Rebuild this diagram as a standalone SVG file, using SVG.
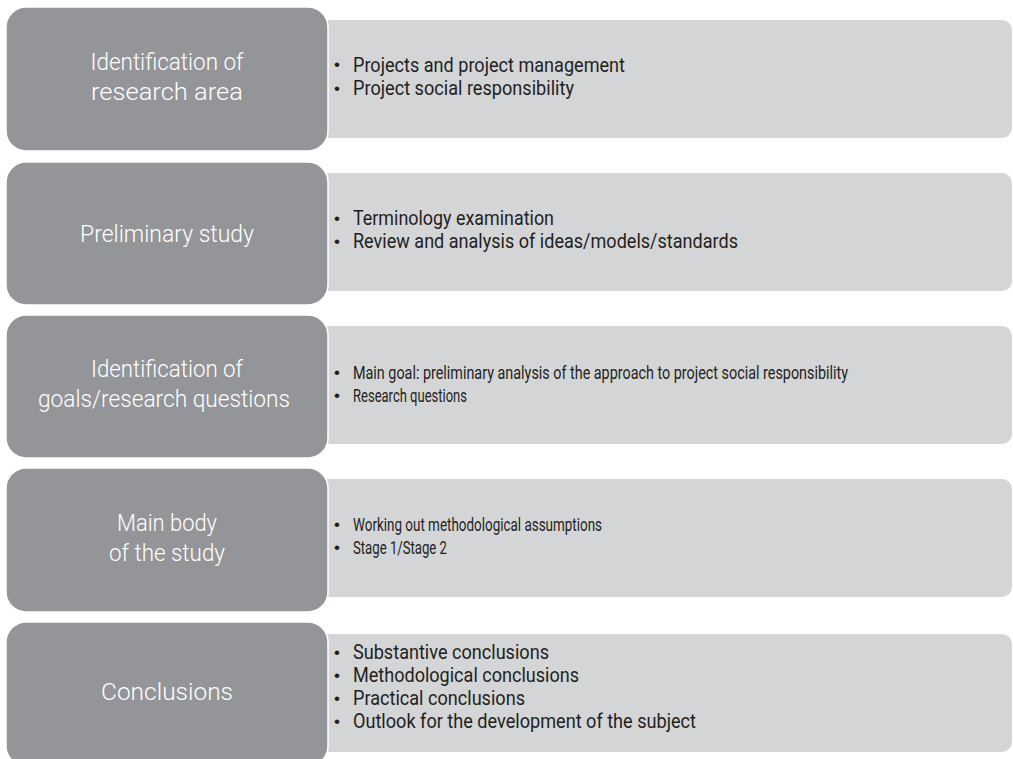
<svg xmlns="http://www.w3.org/2000/svg" width="1013" height="759" viewBox="0 0 1013 759">
  <style>
    .panel { fill: #d4d5d7; }
    .stage { fill: #939598; stroke: #ffffff; stroke-width: 1.5; }
    .stage-label { font-family: Roboto, "Liberation Sans", sans-serif; font-weight: 300; font-size: 24px; fill: #ffffff; text-anchor: middle; }
    .item { font-family: Roboto, "Liberation Sans", sans-serif; font-size: 21px; fill: #231f20; }
    .item.small { font-size: 19px; }
    .bullet { font-family: "Liberation Sans", sans-serif; font-size: 17px; fill: #231f20; }
  </style>
  <rect width="1013" height="759" fill="#ffffff"/>

  <g id="connectors"></g>

  <!-- Stage 1 -->
  <g id="stage-research-area">
    <rect class="panel" x="300" y="20" width="712" height="118" rx="10"/>
    <rect class="stage" x="6" y="7" width="322" height="144" rx="20"/>
    <text class="stage-label" x="167" y="70" textLength="153" lengthAdjust="spacingAndGlyphs">Identification of</text>
    <text class="stage-label" x="167" y="100" textLength="152" lengthAdjust="spacingAndGlyphs">research area</text>
    <text class="bullet" x="334" y="70">•</text>
    <text class="item" x="353" y="71.5" textLength="272" lengthAdjust="spacingAndGlyphs">Projects and project management</text>
    <text class="bullet" x="334" y="94">•</text>
    <text class="item" x="353" y="95" textLength="221" lengthAdjust="spacingAndGlyphs">Project social responsibility</text>
  </g>

  <!-- Stage 2 -->
  <g id="stage-preliminary">
    <rect class="panel" x="300" y="173" width="712" height="118" rx="10"/>
    <rect class="stage" x="6" y="162" width="322" height="143" rx="20"/>
    <text class="stage-label" x="167" y="242" textLength="174" lengthAdjust="spacingAndGlyphs">Preliminary study</text>
    <text class="bullet" x="334" y="224">•</text>
    <text class="item" x="353" y="225" textLength="201" lengthAdjust="spacingAndGlyphs">Terminology examination</text>
    <text class="bullet" x="334" y="247">•</text>
    <text class="item" x="353" y="248" textLength="385" lengthAdjust="spacingAndGlyphs">Review and analysis of ideas/models/standards</text>
  </g>

  <!-- Stage 3 -->
  <g id="stage-goals">
    <rect class="panel" x="300" y="326" width="712" height="118" rx="10"/>
    <rect class="stage" x="6" y="315" width="322" height="143" rx="20"/>
    <text class="stage-label" x="167" y="377" textLength="152" lengthAdjust="spacingAndGlyphs">Identification of</text>
    <text class="stage-label" x="164" y="407" textLength="252" lengthAdjust="spacingAndGlyphs">goals/research questions</text>
    <text class="bullet" x="334" y="378">•</text>
    <text class="item small" x="353" y="379" textLength="495" lengthAdjust="spacingAndGlyphs">Main goal: preliminary analysis of the approach to project social responsibility</text>
    <text class="bullet" x="334" y="401">•</text>
    <text class="item small" x="353" y="402" textLength="114" lengthAdjust="spacingAndGlyphs">Research questions</text>
  </g>

  <!-- Stage 4 -->
  <g id="stage-main-body">
    <rect class="panel" x="300" y="479" width="712" height="118" rx="10"/>
    <rect class="stage" x="6" y="468" width="322" height="144" rx="20"/>
    <text class="stage-label" x="167" y="531" textLength="100" lengthAdjust="spacingAndGlyphs">Main body</text>
    <text class="stage-label" x="167" y="561" textLength="116" lengthAdjust="spacingAndGlyphs">of the study</text>
    <text class="bullet" x="334" y="530">•</text>
    <text class="item small" x="353" y="531" textLength="249" lengthAdjust="spacingAndGlyphs">Working out methodological assumptions</text>
    <text class="bullet" x="334" y="553">•</text>
    <text class="item small" x="353" y="554" textLength="94" lengthAdjust="spacingAndGlyphs">Stage 1/Stage 2</text>
  </g>

  <!-- Stage 5 -->
  <g id="stage-conclusions">
    <rect class="panel" x="300" y="634" width="712" height="118" rx="10"/>
    <rect class="stage" x="6" y="622" width="322" height="144" rx="20"/>
    <text class="stage-label" x="167" y="700" textLength="132" lengthAdjust="spacingAndGlyphs">Conclusions</text>
    <text class="bullet" x="334" y="658">•</text>
    <text class="item" x="353" y="659" textLength="196" lengthAdjust="spacingAndGlyphs">Substantive conclusions</text>
    <text class="bullet" x="334" y="681">•</text>
    <text class="item" x="353" y="682" textLength="226" lengthAdjust="spacingAndGlyphs">Methodological conclusions</text>
    <text class="bullet" x="334" y="704">•</text>
    <text class="item" x="353" y="705" textLength="172" lengthAdjust="spacingAndGlyphs">Practical conclusions</text>
    <text class="bullet" x="334" y="727">•</text>
    <text class="item" x="353" y="728" textLength="343" lengthAdjust="spacingAndGlyphs">Outlook for the development of the subject</text>
  </g>
</svg>
